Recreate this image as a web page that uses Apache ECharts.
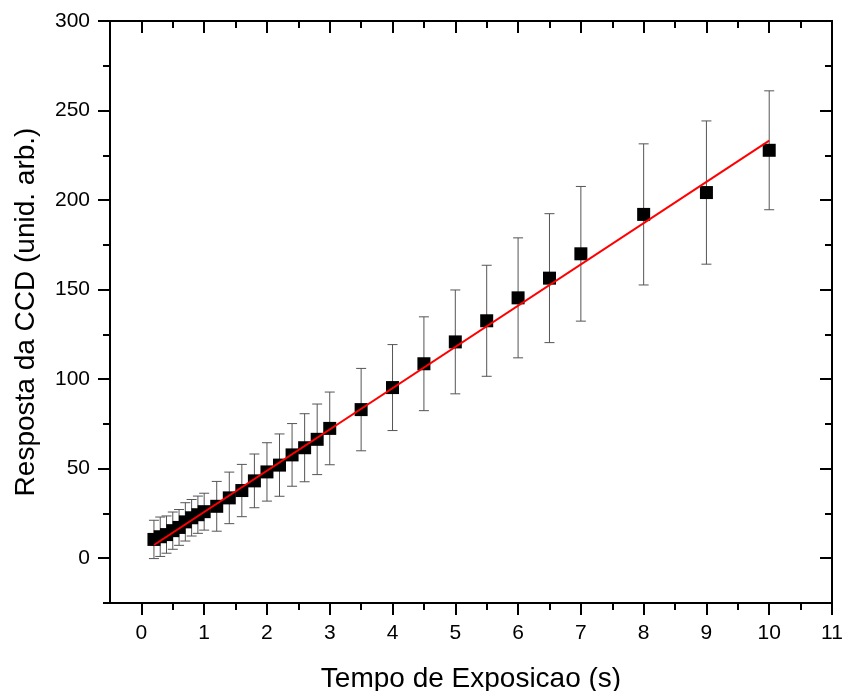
<!DOCTYPE html>
<html>
<head>
<meta charset="utf-8">
<script src="https://cdn.jsdelivr.net/npm/echarts@6/dist/echarts.min.js"></script>
<style>
  html, body { margin: 0; padding: 0; background: #fff; }
  #chart { width: 845px; height: 691px; }
</style>
</head>
<body>
<div id="chart"></div>
<script>
// tempo de exposicao (s)
const tempo = [0.2, 0.3, 0.4, 0.5, 0.6, 0.7, 0.8, 0.9, 1.0, 1.2, 1.4, 1.6, 1.8, 2.0, 2.2,
  2.4, 2.6, 2.8, 3.0, 3.5, 4, 4.5, 5, 5.5, 6, 6.5, 7, 8, 9, 10]
// resposta media da CCD
const resposta = [10.5, 12, 13.2, 15.4, 17.2, 20.3, 22.6, 24.3, 26, 29, 33.7, 37.8, 43.2, 48.2, 52,
  57.7, 61.7, 66.4, 72.5, 83, 95.3, 108.6, 120.8, 132.6, 145.4, 156.4, 170, 192, 204.2, 227.8]
// barras de erro (+/-)
const erro = [10.7, 11, 10.4, 10.4, 10, 10.7, 10.2, 10.4, 10.3, 13.9, 14.4, 14.6, 15, 16.3, 17.4,
  17.5, 19, 19.7, 20.3, 23, 24, 26.2, 29, 31, 33.5, 36, 37.6, 39.4, 40, 33.2]
// ajuste linear (extremos)
const ajusteX = [0.2, 10]
const ajusteY = [7.4, 233.2]

const xMajor = [0, 1, 2, 3, 4, 5, 6, 7, 8, 9, 10, 11]
const xMinor = [0.5, 1.5, 2.5, 3.5, 4.5, 5.5, 6.5, 7.5, 8.5, 9.5, 10.5]
const yMajor = [0, 50, 100, 150, 200, 250, 300]
const yMinor = [-25, 25, 75, 125, 175, 225, 275]

const font = '"Liberation Sans", Arial, sans-serif'
const preto = { color: '#000', width: 2 }

function eixo(kind, pos, ticks, len, inside, extra) {
  const base = {
    type: 'value',
    position: pos,
    min: kind === 'x' ? -0.5 : -25,
    max: kind === 'x' ? 11 : 300,
    axisLine: { show: true, onZero: false, lineStyle: preto },
    axisTick: { show: true, customValues: ticks, length: len, inside: inside, lineStyle: preto },
    axisLabel: { show: false },
    splitLine: { show: false }
  }
  return Object.assign(base, extra || {})
}

const chart = echarts.init(document.getElementById('chart'))

chart.setOption({
  animation: false,
  backgroundColor: '#fff',
  grid: { left: 110, right: 13, top: 21, bottom: 88, containLabel: false, outerBoundsMode: 'none' },
  xAxis: [
    eixo('x', 'bottom', xMajor, 12, false, {
      axisLabel: { show: true, customValues: xMajor, fontSize: 21, color: '#000', fontFamily: font, margin: 20 },
      name: 'Tempo de Exposicao (s)',
      nameLocation: 'middle',
      nameGap: 62,
      nameTextStyle: { fontSize: 28, color: '#000', fontFamily: font }
    }),
    eixo('x', 'bottom', xMinor, 7, false),
    eixo('x', 'top', xMajor, 12, true),
    eixo('x', 'top', xMinor, 7, true)
  ],
  yAxis: [
    eixo('y', 'left', yMajor, 12, false, {
      axisLabel: { show: true, customValues: yMajor, fontSize: 21, color: '#000', fontFamily: font, margin: 20 },
      name: 'Resposta da CCD (unid. arb.)',
      nameLocation: 'middle',
      nameGap: 70,
      nameTextStyle: { fontSize: 28, color: '#000', fontFamily: font }
    }),
    eixo('y', 'left', yMinor, 7, false),
    eixo('y', 'right', yMajor, 12, true),
    eixo('y', 'right', yMinor, 7, true)
  ],
  series: [
    {
      type: 'custom',
      name: 'erro',
      data: tempo.map((t, i) => [t, resposta[i], erro[i]]),
      z: 2,
      renderItem: function (params, api) {
        const x = api.value(0), y = api.value(1), e = api.value(2)
        const top = api.coord([x, y + e])
        const bot = api.coord([x, y - e])
        const hw = 5
        const st = { stroke: '#555', lineWidth: 1 }
        return {
          type: 'group',
          children: [
            { type: 'line', shape: { x1: top[0], y1: top[1], x2: bot[0], y2: bot[1] }, style: st },
            { type: 'line', shape: { x1: top[0] - hw, y1: top[1], x2: top[0] + hw, y2: top[1] }, style: st },
            { type: 'line', shape: { x1: bot[0] - hw, y1: bot[1], x2: bot[0] + hw, y2: bot[1] }, style: st }
          ]
        }
      }
    },
    {
      type: 'scatter',
      name: 'resposta',
      data: tempo.map((t, i) => [t, resposta[i]]),
      symbol: 'rect',
      symbolSize: 13,
      itemStyle: { color: '#000', opacity: 1 },
      z: 3
    },
    {
      type: 'line',
      name: 'ajuste',
      data: ajusteX.map((t, i) => [t, ajusteY[i]]),
      showSymbol: false,
      lineStyle: { color: '#ff0000', width: 2 },
      z: 4
    }
  ]
})
</script>
</body>
</html>
